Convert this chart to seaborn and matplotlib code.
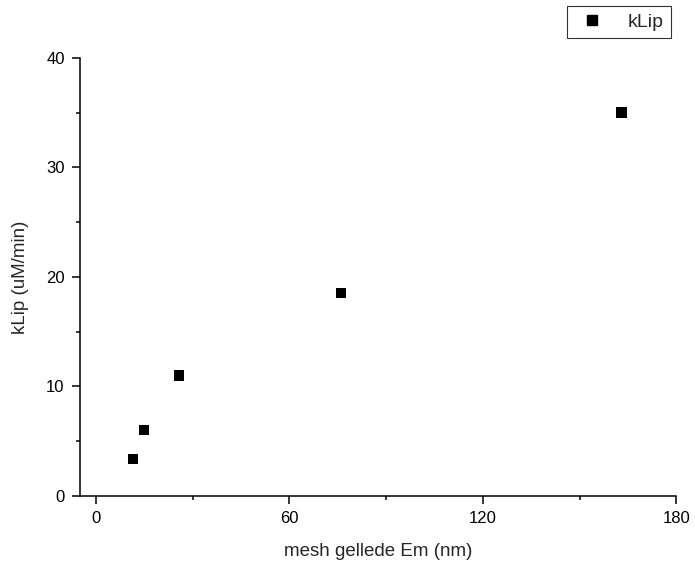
import matplotlib
matplotlib.use("Agg")
import matplotlib.pyplot as plt
from matplotlib.ticker import MultipleLocator
import seaborn as sns
import pandas as pd

# Measured rate vs. mesh size
mesh_nm = [11.5, 14.9, 25.8, 76.0, 163.0]
klip = [3.4, 6.0, 11.0, 18.5, 35.0]
series_name = "kLip"

sns.set_theme(style="ticks")
plt.rcParams["font.family"] = ["Liberation Sans", "DejaVu Sans"]

df = pd.DataFrame({"mesh": mesh_nm, "klip": klip, "series": series_name})

fig = plt.figure(figsize=(6.95, 5.72), dpi=100)
ax = fig.add_axes([0.115, 0.133, 0.858, 0.766])

sns.scatterplot(data=df, x="mesh", y="klip", hue="series", palette=["black"],
                marker="s", s=55, edgecolor="black", linewidth=0, ax=ax, legend=False)

ax.set_xlim(-5, 180)
ax.set_ylim(0, 40)
ax.xaxis.set_major_locator(MultipleLocator(60))
ax.xaxis.set_minor_locator(MultipleLocator(30))
ax.yaxis.set_major_locator(MultipleLocator(10))
ax.yaxis.set_minor_locator(MultipleLocator(5))

for side in ("top", "right"):
    ax.spines[side].set_visible(False)
for side in ("left", "bottom"):
    ax.spines[side].set_linewidth(1.1)
    ax.spines[side].set_color("black")

ax.tick_params(which="major", direction="out", length=6, width=1.1, colors="black",
               labelsize=12, pad=5)
ax.tick_params(which="minor", direction="out", length=3, width=1.1, colors="black")

ax.set_xlabel("mesh gellede Em (nm)", fontsize=13.5, labelpad=12)
ax.set_ylabel("kLip (uM/min)", fontsize=13.5, labelpad=12)

handle = plt.Line2D([], [], marker="s", linestyle="none", color="black",
                    markersize=7, label=series_name)
leg = fig.legend(handles=[handle], loc="upper right", bbox_to_anchor=(0.965, 0.989),
                 frameon=True, fancybox=False, fontsize=14, handletextpad=0.9,
                 borderpad=0.35, handlelength=1.9, borderaxespad=0)
leg.get_frame().set_edgecolor("black")
leg.get_frame().set_linewidth(0.8)

fig.savefig("out.png", dpi=100)
